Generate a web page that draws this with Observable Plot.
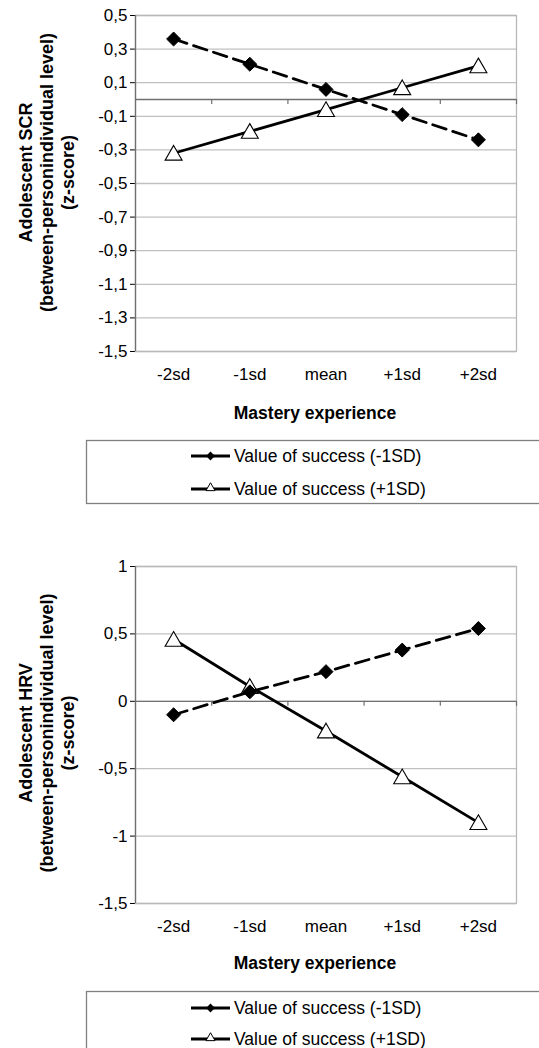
<!DOCTYPE html>
<html><head><meta charset="utf-8">
<script src="https://cdn.jsdelivr.net/npm/d3@7"></script>
<script src="https://cdn.jsdelivr.net/npm/@observablehq/plot@0.6"></script>
<style>
html,body{margin:0;padding:0;background:#fff;}
#page{position:relative;width:539px;height:1048px;overflow:hidden;font-family:"Liberation Sans",Arial,sans-serif;}
#page > *{position:absolute;left:0;}
</style></head><body><div id="page"></div>
<script>
// ---- data ----
const categories = ["-2sd", "-1sd", "mean", "+1sd", "+2sd"];
const seriesNames = ["Value of success (-1SD)", "Value of success (+1SD)"];
const xLabel = "Mastery experience";

const scrTitle = ["Adolescent SCR", "(between-personindividual level)", "(z-score)"];
const scrLow  = [0.36, 0.21, 0.06, -0.09, -0.24];
const scrHigh = [-0.32, -0.19, -0.06, 0.07, 0.20];
const scrTicks = [0.5, 0.3, 0.1, -0.1, -0.3, -0.5, -0.7, -0.9, -1.1, -1.3, -1.5];

const hrvTitle = ["Adolescent HRV", "(between-personindividual level)", "(z-score)"];
const hrvLow  = [-0.10, 0.07, 0.22, 0.38, 0.54];
const hrvHigh = [0.46, 0.11, -0.22, -0.56, -0.90];
const hrvTicks = [1, 0.5, 0, -0.5, -1, -1.5];

const FONT = '"Liberation Sans", Arial, sans-serif';
const fmt = d => String(d).replace(".", ",");
const page = document.getElementById("page");

function chart({low, high, ticks, title, top, height, marginTop, marginBottom, titleDy, labelDy}) {
  const lowRows = categories.map((c, i) => ({i, value: low[i]}));
  const highRows = categories.map((c, i) => ({i, value: high[i]}));
  const xDomain = [-0.5, categories.length - 0.5];
  const boundaries = categories.map((c, i) => i + 0.5);
  const svg = Plot.plot({
    width: 539, height, marginTop, marginBottom, marginLeft: 135, marginRight: 23,
    style: {fontFamily: FONT, fontSize: "17px", color: "#000", background: "transparent", overflow: "visible"},
    x: {type: "linear", domain: xDomain, ticks: categories.map((c, i) => i), tickFormat: i => categories[i],
        tickSize: 0, tickPadding: 16, label: null},
    y: {domain: d3.extent(ticks), ticks, tickFormat: fmt, tickSize: 5, tickPadding: 3, label: null},
    marks: [
      Plot.ruleY(ticks, {stroke: "#c0c0c0", strokeWidth: 1.3}),
      Plot.frame({stroke: "#b8b8b8", strokeWidth: 1.3}),
      Plot.ruleX([xDomain[0]], {stroke: "#707070", strokeWidth: 1.3}),
      Plot.ruleY([0], {stroke: "#707070", strokeWidth: 1.3}),
      Plot.ruleX(boundaries, {y1: 0, y2: 0, insetBottom: -5, stroke: "#707070", strokeWidth: 1.2}),
      Plot.line(highRows, {x: "i", y: "value", stroke: "#000", strokeWidth: 2.8}),
      Plot.dot(highRows, {x: "i", y: "value", symbol: "triangle", r: 6.3, fill: "#fff", stroke: "#000", strokeWidth: 1.1, dy: 2}),
      Plot.line(lowRows, {x: "i", y: "value", stroke: "#000", strokeWidth: 2.8, strokeDasharray: "14,7"}),
      Plot.dot(lowRows, {x: "i", y: "value", symbol: "diamond2", r: 6.3, fill: "#000", stroke: "#000", strokeWidth: 1}),
      Plot.text([title.join("\n")], {text: d => d, frameAnchor: "left", textAnchor: "middle", lineAnchor: "middle",
        rotate: -90, dx: -89, dy: titleDy, fontWeight: "bold", fontSize: 18, lineHeight: 1.17}),
      Plot.text([xLabel], {text: d => d, frameAnchor: "bottom", textAnchor: "middle", lineAnchor: "middle",
        dx: -11, dy: labelDy, fontWeight: "bold", fontSize: 17.5})
    ]
  });
  svg.style.top = top + "px";
  page.appendChild(svg);
}

function legend(top, rowYs) {
  const svg = d3.create("svg").attr("width", 539).attr("height", 80)
    .style("top", top + "px").style("overflow", "visible");
  svg.append("rect").attr("x", 86.5).attr("y", 0.5).attr("width", 520).attr("height", 63)
    .attr("fill", "none").attr("stroke", "#808080").attr("stroke-width", 1.3);
  seriesNames.forEach((name, k) => {
    const y = rowYs[k];
    const g = svg.append("g");
    g.append("line").attr("x1", 191).attr("x2", 230).attr("y1", y).attr("y2", y)
      .attr("stroke", "#000").attr("stroke-width", 3);
    if (k === 0) {
      g.append("path").attr("d", d3.symbol(d3.symbolDiamond2, 50)()).attr("transform", `translate(210.5,${y})`)
        .attr("fill", "#000");
    } else {
      g.append("path").attr("d", d3.symbol(d3.symbolTriangle, 36)()).attr("transform", `translate(210.5,${y - 1})`)
        .attr("fill", "#fff").attr("stroke", "#000").attr("stroke-width", 1);
    }
    g.append("text").attr("x", 234).attr("y", y).attr("dy", "0.35em")
      .attr("font-family", FONT).attr("font-size", 17.5).attr("fill", "#000").text(name);
  });
  page.appendChild(svg.node());
}

chart({low: scrLow, high: scrHigh, ticks: scrTicks, title: scrTitle, top: 0, height: 430,
       marginTop: 15, marginBottom: 79, titleDy: -11, labelDy: 62});
legend(440, [16, 49]);
chart({low: hrvLow, high: hrvHigh, ticks: hrvTicks, title: hrvTitle, top: 520, height: 460,
       marginTop: 46, marginBottom: 77, titleDy: -2, labelDy: 60});
legend(991, [17, 48]);
</script></body></html>
